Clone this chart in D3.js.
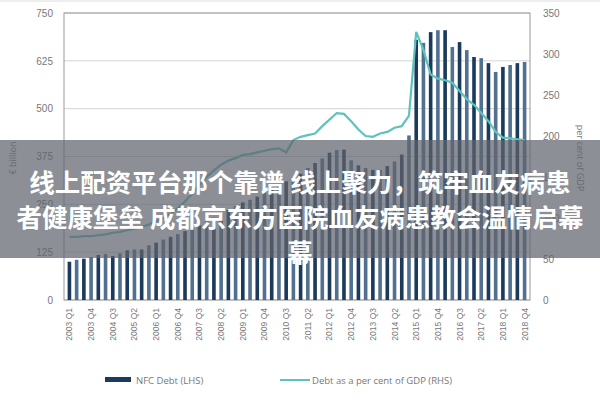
<!DOCTYPE html><html><head><meta charset="utf-8"><script src="https://cdn.jsdelivr.net/npm/d3@7"></script>
<style>body{margin:0;background:#fff}svg{display:block;font-family:"Open Sans",sans-serif}</style></head><body>
<script>
const years=d3.range(2003,2019);
const quarters=[];years.forEach(y=>[1,2,3,4].forEach(q=>quarters.push(y+" Q"+q)));
const nfcDebt=[100,105,108,112,118,120,115,122,130,132,132,143,150,158,165,172,180,188,195,205,215,225,235,245,255,262,270,280,290,300,310,320,330,345,358,370,385,392,393,365,352,345,340,340,350,362,380,430,680,672,700,705,705,661,674,653,635,632,619,596,609,614,619,622];
const debtPctGdp=[77,77,78,78,79,80,82,83,85,87,89,92,96,100,105,112,120,130,140,150,158,165,170,173,177,178,180,182,184,185,180,195,199,201,203,212,220,228,227,218,208,200,199,203,205,210,212,225,327,305,275,270,268,265,255,245,238,228,218,205,198,197,196,195];
const leftTicks=[0,125,250,375,500,625,750];
const rightTicks=[0,50,100,150,200,250,300,350];
const labelQuarters=quarters.filter((d,i)=>i%3===0);
const W=600,H=400,m={l:64,r:70,t:13,b:100};
const svg=d3.select("body").append("svg").attr("width",W).attr("height",H);
const x=d3.scaleBand().domain(quarters).range([m.l,W-m.r]).padding(0.5);
const yL=d3.scaleLinear().domain([0,750]).range([H-m.b,m.t]);
const yR=d3.scaleLinear().domain([0,350]).range([H-m.b,m.t]);
svg.append("line").attr("x1",0).attr("x2",W).attr("y1",1).attr("y2",1).attr("stroke","#ddd");
svg.append("g").selectAll("line").data(leftTicks).join("line").attr("x1",m.l).attr("x2",W-m.r).attr("y1",d=>yL(d)).attr("y2",d=>yL(d)).attr("stroke","#d4d4d4");
svg.append("rect").attr("x",m.l).attr("y",m.t).attr("width",W-m.r-m.l).attr("height",H-m.b-m.t).attr("fill","none").attr("stroke","#999");
svg.append("g").selectAll("rect").data(nfcDebt).join("rect").attr("x",(d,i)=>x(quarters[i])).attr("width",x.bandwidth()).attr("y",d=>yL(d)).attr("height",d=>yL(0)-yL(d)).attr("fill",(d,i)=>i%2?"#52708f":"#1b3a5c");
svg.append("path").datum(debtPctGdp).attr("fill","none").attr("stroke","#5cc3bd").attr("stroke-width",2.2)
 .attr("d",d3.line().x((d,i)=>x(quarters[i])+x.bandwidth()/2).y(d=>yR(d)));
const gl=svg.append("g").attr("transform",`translate(${m.l-8},0)`).call(d3.axisLeft(yL).tickValues(leftTicks).tickSize(0).tickFormat(d3.format("d")));
const gr=svg.append("g").attr("transform",`translate(${W-m.r+10},0)`).call(d3.axisRight(yR).tickValues(rightTicks).tickSize(0));
const gx=svg.append("g").attr("transform",`translate(0,${H-m.b+6})`).call(d3.axisBottom(x).tickValues(labelQuarters).tickSize(0));
gx.selectAll("text").attr("transform","rotate(-90)").attr("text-anchor","end").attr("dx","0").attr("dy","0.35em").attr("x",-2).attr("y",0).style("font-size","8.5px");
[gl,gr,gx].forEach(g=>{g.select(".domain").remove();g.selectAll("text").attr("fill","#777");});
gl.selectAll("text").style("font-size","10px");gr.selectAll("text").style("font-size","10px");
svg.append("text").attr("transform","translate(16,158) rotate(-90)").attr("text-anchor","middle").attr("fill","#777").style("font-size","9px").text("€ billion");
svg.append("text").attr("transform","translate(577,158) rotate(90)").attr("text-anchor","middle").attr("fill","#777").style("font-size","9px").text("per cent of GDP");
svg.append("rect").attr("x",105).attr("y",377).attr("width",26).attr("height",5).attr("fill","#1b3a5c");
svg.append("text").attr("x",136).attr("y",384).attr("fill","#777").style("font-size","9.5px").text("NFC Debt (LHS)");
svg.append("line").attr("x1",280).attr("x2",310).attr("y1",380).attr("y2",380).attr("stroke","#5cc3bd").attr("stroke-width",2);
svg.append("text").attr("x",312).attr("y",384).attr("fill","#777").style("font-size","9.5px").text("Debt as a per cent of GDP (RHS)");
svg.append("rect").attr("x",0).attr("y",140).attr("width",W).attr("height",118).attr("fill","rgba(95,100,110,0.72)");
const lines=["线上配资平台那个靠谱 线上聚力，筑牢血友病患","者健康堡垒 成都京东方医院血友病患教会温情启幕","幕"];
svg.append("g").selectAll("text").data(lines).join("text").attr("x",W/2).attr("y",(d,i)=>192+i*35).attr("text-anchor","middle").attr("fill","#fff").style("font-family","'Noto Sans CJK SC'").style("font-weight","bold").style("font-size","25.5px").text(d=>d);
</script></body></html>
